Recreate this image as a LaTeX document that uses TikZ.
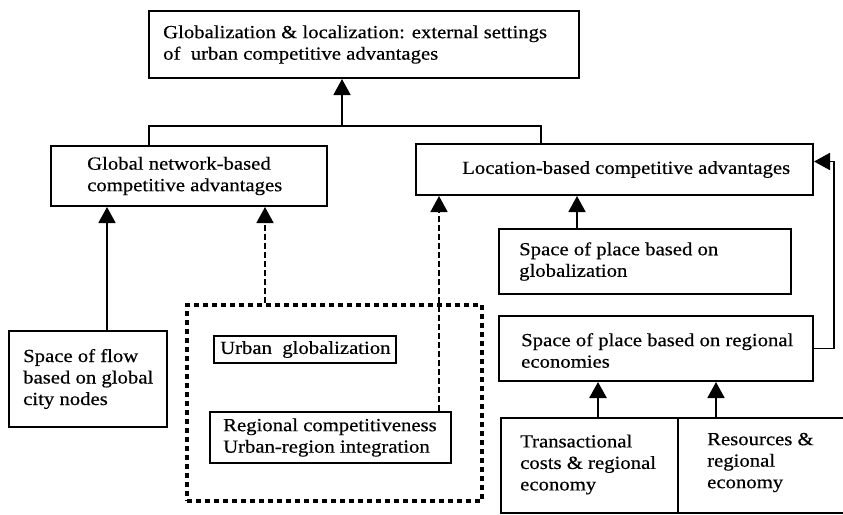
\documentclass[tikz,border=0pt]{standalone}
\usepackage{fontspec}
\setmainfont{Liberation Serif}[FakeStretch=1.12,FakeBold=0.5]
\usetikzlibrary{arrows.meta,positioning}

\begin{document}
\begin{tikzpicture}[x=1pt,y=-1pt,
  box/.style={draw, line width=2pt, anchor=north west, inner sep=0pt},
  dotbox/.style={draw, line width=4pt, dash pattern=on 5pt off 4pt,
    anchor=north west, inner sep=0pt},
  txt/.style={inner sep=0pt, align=left,
    font=\fontsize{18.5}{21.5}\selectfont},
  arr/.style={line width=1.8pt, -{Triangle[width=17pt,length=16pt]}},
  darr/.style={arr, line width=1.6pt, dash pattern=on 6pt off 3pt}]

  \useasboundingbox (0,0) rectangle (843,514);

  %% boxes
  \node[box, minimum width=430, minimum height=67] (top) at (148,10) {};
  \node[box, minimum width=276, minimum height=60] (glob) at (50,145) {};
  \node[box, minimum width=397, minimum height=51] (loc) at (415,143) {};
  \node[box, minimum width=292, minimum height=65] (pglob) at (498,228) {};
  \node[box, minimum width=314, minimum height=65] (preg) at (498,315) {};
  \node[box, minimum width=177, minimum height=95] (trans) at (500,417) {};
  \node[box, minimum width=172, minimum height=95] (res) at (677,417) {};
  \node[box, minimum width=158, minimum height=96] (flow) at (8,330) {};
  \node[dotbox, minimum width=295, minimum height=196] (urb) at (185,303) {};
  \node[box, minimum width=182, minimum height=27] (ug) at (213,335) {};
  \node[box, minimum width=241, minimum height=51] (rc) at (209,411) {};

  %% texts
  \node[txt, right=15pt of top.west] (topt)
    {Globalization \& localization: external settings\\of\ \ urban competitive advantages};
  \node[txt, right=37pt of glob.west] (globt)
    {Global network-based\\competitive advantages};
  \node[txt, right=47pt of loc.west] (loct) {Location-based competitive advantages};
  \node[txt, right=21pt of pglob.west] (pglobt)
    {Space of place based on\\globalization};
  \node[txt, right=23pt of preg.west, yshift=-2pt] (pregt)
    {Space of place based on regional\\economies};
  \node[txt, right=20pt of trans.west, yshift=1pt] (transt)
    {Transactional\\costs \& regional\\economy};
  \node[txt, right=30pt of res.west, yshift=3pt] (rest)
    {Resources \&\\regional\\economy};
  \node[txt, right=15pt of flow.west] (flowt)
    {Space of flow\\based on global\\city nodes};
  \node[txt, right=7pt of ug.west] (ugt) {Urban\ \ globalization};
  \node[txt, right=14pt of rc.west] (rct)
    {Regional competitiveness\\Urban-region integration};

  %% glob, loc -> top
  \coordinate (join) at (342,126);
  \draw[line width=1.8pt] ([xshift=99pt]glob.north west) |- (join)
    -| ([xshift=126pt]loc.north west);
  \draw[arr] (join) -- ([xshift=194pt]top.south west);

  %% flow -> glob
  \draw[arr] ([xshift=99pt]flow.north west) -- ([xshift=57pt]glob.south west);
  %% urb -> glob
  \draw[darr] ([xshift=80pt]urb.north west) -- ([xshift=215pt]glob.south west);
  %% rc -> loc
  \draw[darr] ([xshift=230pt]rc.north west) -- ([xshift=24pt]loc.south west);
  %% pglob -> loc
  \draw[arr] ([xshift=79pt]pglob.north west) -- ([xshift=162pt]loc.south west);
  %% preg -> loc
  \draw[arr] (preg.east) -- ++(20,0) |- ([yshift=8pt]loc.east);
  %% trans, res -> preg
  \draw[arr, line width=2.6pt] ([xshift=98pt]trans.north west)
    -- ([xshift=100pt]preg.south west);
  \draw[arr] ([xshift=39pt]res.north west) -- ([xshift=218pt]preg.south west);

\end{tikzpicture}
\end{document}
